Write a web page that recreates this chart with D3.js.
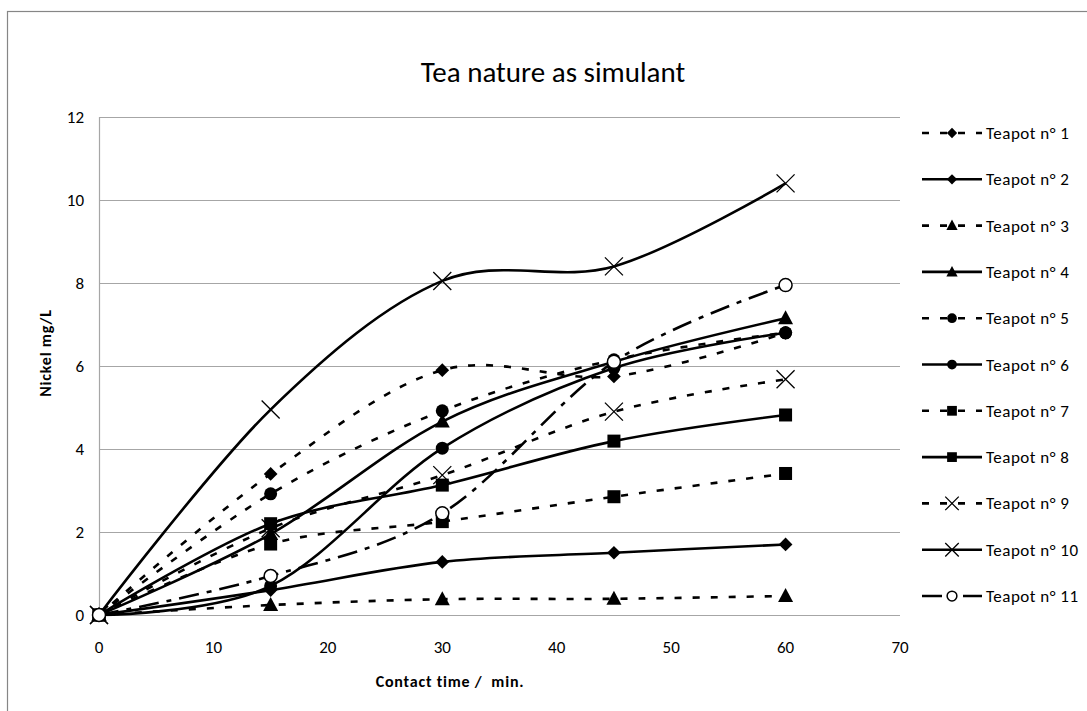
<!DOCTYPE html>
<html>
<head>
<meta charset="utf-8">
<script src="https://cdn.jsdelivr.net/npm/d3@7"></script>
<style>
  body { margin: 0; background: #fff; }
  svg { font-family: Carlito, Lato, sans-serif; }
  text { white-space: pre; }
</style>
</head>
<body>
<svg id="drawing_region"></svg>
<script>
// contact time (min.)
const times = [0, 15, 30, 45, 60];

// nickel (mg/L)
const teapot1  = [0, 3.40, 5.90, 5.75, 6.80];
const teapot2  = [0, 0.60, 1.28, 1.50, 1.70];
const teapot3  = [0, 0.24, 0.38, 0.39, 0.46];
const teapot4  = [0, 1.95, 4.66, 6.10, 7.15];
const teapot5  = [0, 2.92, 4.92, 6.15, 6.80];
const teapot6  = [0, 0.70, 4.02, 5.95, 6.80];
const teapot7  = [0, 1.71, 2.25, 2.85, 3.41];
const teapot8  = [0, 2.20, 3.13, 4.19, 4.82];
const teapot9  = [0, 2.09, 3.37, 4.90, 5.68];
const teapot10 = [0, 4.95, 8.05, 8.40, 10.40];
const teapot11 = [0, 0.94, 2.45, 6.10, 7.95];

const seriesNames = ["Teapot n° 1", "Teapot n° 2", "Teapot n° 3", "Teapot n° 4", "Teapot n° 5",
    "Teapot n° 6", "Teapot n° 7", "Teapot n° 8", "Teapot n° 9", "Teapot n° 10", "Teapot n° 11"];
const seriesValues = [teapot1, teapot2, teapot3, teapot4, teapot5, teapot6,
    teapot7, teapot8, teapot9, teapot10, teapot11];

const xTicks = [0, 10, 20, 30, 40, 50, 60, 70];
const yTicks = [0, 2, 4, 6, 8, 10, 12];

// line style / marker per series
const dashShort = "7,11";
const dashLongDot = "20,8,5,8";
const styles = [
    {dash: dashShort, marker: "diamond"},
    {dash: null, marker: "diamond"},
    {dash: dashShort, marker: "triangle"},
    {dash: null, marker: "triangle"},
    {dash: dashShort, marker: "circle"},
    {dash: null, marker: "circle"},
    {dash: dashShort, marker: "square"},
    {dash: null, marker: "square"},
    {dash: dashShort, marker: "cross"},
    {dash: null, marker: "cross"},
    {dash: dashLongDot, marker: "open"}
];

class LineChart {

    constructor( config, series ) {
        this.config = config;
        this.series = series;
        this.init();
    }

    init() {
        let self = this;

        self.svg = d3.select( self.config.parent )
            .attr('width', self.config.width)
            .attr('height', self.config.height);

        // chart frame (only left and top show in the picture)
        self.svg.append('rect')
            .attr('x', 7.5).attr('y', 11.5)
            .attr('width', 1100).attr('height', 720)
            .attr('fill', 'none')
            .attr('stroke', '#868686')
            .attr('stroke-width', 1.2);

        self.xscale = d3.scaleLinear()
            .domain([0, 70])
            .range([self.config.plot.left, self.config.plot.right]);

        self.yscale = d3.scaleLinear()
            .domain([0, 12])
            .range([self.config.plot.bottom, self.config.plot.top]);

        self.chart = self.svg.append('g');
    }

    marker( g, type, k ) {
        const s = k || 1;
        if (type == "diamond") {
            g.append('path').attr('d', d3.symbol(d3.symbolDiamond2, 120 * s * s)())
                .attr('fill', '#000');
        } else if (type == "triangle") {
            g.append('path').attr('d', `M0,${-8*s}L${7.5*s},${6*s}L${-7.5*s},${6*s}Z`)
                .attr('fill', '#000');
        } else if (type == "circle") {
            g.append('circle').attr('r', 6.5 * s).attr('fill', '#000');
        } else if (type == "square") {
            g.append('rect').attr('x', -6.5*s).attr('y', -6.5*s)
                .attr('width', 13*s).attr('height', 13*s).attr('fill', '#000');
        } else if (type == "cross") {
            const r = 9 * s;
            g.append('path').attr('d', `M${-r},${-r}L${r},${r}M${r},${-r}L${-r},${r}`)
                .attr('stroke', '#000').attr('stroke-width', 1.3).attr('fill', 'none');
        } else if (type == "open") {
            g.append('circle').attr('r', 6.5 * s).attr('fill', '#fff')
                .attr('stroke', '#000').attr('stroke-width', 1.5);
        }
    }

    render() {
        let self = this;
        const p = self.config.plot;

        // gridlines
        self.chart.append('g')
            .selectAll('line')
            .data(yTicks)
            .join('line')
            .attr('x1', p.left).attr('x2', p.right)
            .attr('y1', d => Math.round(self.yscale(d)) + 0.5)
            .attr('y2', d => Math.round(self.yscale(d)) + 0.5)
            .attr('stroke', '#a6a6a6')
            .attr('stroke-width', 1.2);

        // y axis line
        self.chart.append('line')
            .attr('x1', p.left + 0.5).attr('x2', p.left + 0.5)
            .attr('y1', p.top).attr('y2', p.bottom)
            .attr('stroke', '#a6a6a6').attr('stroke-width', 1.2);

        // tick labels
        self.chart.append('g')
            .selectAll('text')
            .data(yTicks)
            .join('text')
            .attr('x', p.left - 15)
            .attr('y', d => self.yscale(d) + 6)
            .attr('text-anchor', 'end')
            .attr('font-size', '17px')
            .attr('fill', '#000')
            .text(d => d);

        self.chart.append('g')
            .selectAll('text')
            .data(xTicks)
            .join('text')
            .attr('x', d => self.xscale(d))
            .attr('y', p.bottom + 38)
            .attr('text-anchor', 'middle')
            .attr('font-size', '17px')
            .attr('fill', '#000')
            .text(d => d);

        // title and axis labels
        self.svg.append('text')
            .attr('x', 553).attr('y', 82)
            .attr('text-anchor', 'middle')
            .attr('font-size', '29px')
            .text("Tea nature as simulant");

        self.svg.append('text')
            .attr('x', 450).attr('y', 687)
            .attr('text-anchor', 'middle')
            .attr('font-size', '16px')
            .attr('font-weight', 'bold')
            .attr('letter-spacing', '0.8px')
            .text("Contact time /  min.");

        self.svg.append('text')
            .attr('transform', 'translate(51, 353) rotate(-90)')
            .attr('text-anchor', 'middle')
            .attr('font-size', '16px')
            .attr('font-weight', 'bold')
            .attr('letter-spacing', '0.8px')
            .text("Nickel mg/L");

        const line = d3.line()
            .x(d => self.xscale(d[0]))
            .y(d => self.yscale(d[1]))
            .curve(d3.curveCardinal.tension(0));

        // lines
        self.series.forEach( (s, i) => {
            self.chart.append('path')
                .datum(times.map((t, j) => [t, s.values[j]]))
                .attr('d', line)
                .attr('fill', 'none')
                .attr('stroke', '#000')
                .attr('stroke-width', 2.6)
                .attr('stroke-dasharray', s.dash);
        });

        // markers
        self.series.forEach( (s, i) => {
            times.forEach( (t, j) => {
                const g = self.chart.append('g')
                    .attr('transform', `translate(${self.xscale(t)},${self.yscale(s.values[j])})`);
                self.marker(g, s.marker, 1);
            });
        });

        // legend
        const legend = self.svg.append('g');
        self.series.forEach( (s, i) => {
            const y = 133 + i * 46.3;
            const g = legend.append('g').attr('transform', `translate(0,${y})`);
            g.append('line')
                .attr('x1', 922).attr('x2', 982)
                .attr('y1', 0).attr('y2', 0)
                .attr('stroke', '#000')
                .attr('stroke-width', 2.6)
                .attr('stroke-dasharray', s.dash);
            const m = g.append('g').attr('transform', 'translate(952,0)');
            self.marker(m, s.marker, 0.75);
            g.append('text')
                .attr('x', 986).attr('y', 6)
                .attr('font-size', '17px')
                .attr('letter-spacing', '0.5px')
                .text(s.name);
        });
    }
}

const config = {
    parent: '#drawing_region',
    width: 1087,
    height: 711,
    plot: {left: 99, right: 900, top: 117, bottom: 615}
};

const series = seriesNames.map((name, i) => ({
    name: name,
    values: seriesValues[i],
    dash: styles[i].dash,
    marker: styles[i].marker
}));

const chart = new LineChart( config, series );
chart.render();
</script>
</body>
</html>
